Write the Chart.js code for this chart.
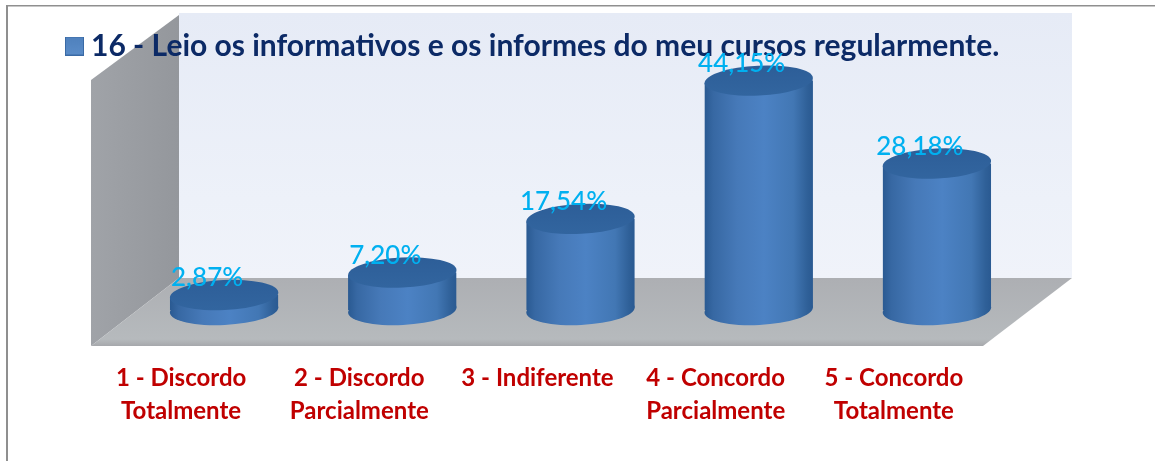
<!DOCTYPE html>
<html><head><meta charset="utf-8">
<style>html,body{margin:0;padding:0;background:#fff;overflow:hidden}#w{width:1155px;height:461px;position:relative}canvas{display:block}</style>
<script src="https://cdn.jsdelivr.net/npm/chart.js@4"></script>
</head><body><div id="w"><canvas id="c" width="1155" height="461"></canvas></div>
<script>
const categories = [
  ['1 - Discordo','Totalmente'],
  ['2 - Discordo','Parcialmente'],
  ['3 - Indiferente'],
  ['4 - Concordo','Parcialmente'],
  ['5 - Concordo','Totalmente']
];
const seriesName = '16 - Leio os informativos e os informes do meu cursos regularmente.';
const values = [2.87, 7.20, 17.54, 44.15, 28.18];
const valueLabels = ['2,87%','7,20%','17,54%','44,15%','28,18%'];

const RY = 15, TILT = -0.05;
function bodyGrad(ctx, cx, hw){
  const g = ctx.createLinearGradient(cx-hw,0,cx+hw,0);
  g.addColorStop(0,'#2a5a92');
  g.addColorStop(0.08,'#3768a3');
  g.addColorStop(0.3,'#4679b8');
  g.addColorStop(0.55,'#4c82c4');
  g.addColorStop(0.82,'#4277b4');
  g.addColorStop(0.95,'#2f6098');
  g.addColorStop(1,'#2a5a92');
  return g;
}
// legend swatch: a 19px blue square, passed to the legend as its point style
const swatch = document.createElement('canvas');
swatch.width = 19; swatch.height = 19;
(function(){
  const s = swatch.getContext('2d');
  const g = s.createLinearGradient(0,0,0,19);
  g.addColorStop(0,'#4f81bd'); g.addColorStop(1,'#5a8cc8');
  s.fillStyle = g; s.fillRect(0,0,19,19);
  s.strokeStyle = '#3a6aa5'; s.lineWidth = 1; s.strokeRect(0.5,0.5,18,18);
})();

const scene = {
  id:'scene',
  beforeDraw(chart){
    const {ctx,scales:{y}} = chart;
    const base = y.getPixelForValue(0);
    const back = base-32, front = base+36, top = base-297;
    ctx.save();
    // outer frame
    ctx.fillStyle='#8f8f8f';
    ctx.fillRect(6,5,1149,1.5);
    ctx.fillRect(6,5,2,456);
    // back wall
    let g = ctx.createLinearGradient(0,top,0,back);
    g.addColorStop(0,'#e6ebf6'); g.addColorStop(0.7,'#edf1f9'); g.addColorStop(1,'#f0f3fa');
    ctx.fillStyle=g; ctx.fillRect(179,top,893,back-top);
    // left wall
    g = ctx.createLinearGradient(91,0,179,0);
    g.addColorStop(0,'#a0a3a8'); g.addColorStop(1,'#94979c');
    ctx.fillStyle=g;
    ctx.beginPath();ctx.moveTo(91,base-230);ctx.lineTo(179,top+2);ctx.lineTo(179,back);ctx.lineTo(91,front);ctx.closePath();ctx.fill();
    // floor
    g = ctx.createLinearGradient(0,back,0,front);
    g.addColorStop(0,'#adafb3'); g.addColorStop(0.9,'#b6babd'); g.addColorStop(1,'#a6a8ac');
    ctx.fillStyle=g;
    ctx.beginPath();ctx.moveTo(179,back);ctx.lineTo(1072,back);ctx.lineTo(983,front);ctx.lineTo(91,front);ctx.closePath();ctx.fill();
    ctx.restore();
  },
  beforeDatasetsDraw(chart){
    const {ctx,scales:{y}} = chart;
    const base = y.getPixelForValue(0);
    chart.getDatasetMeta(0).data.forEach(b=>{
      const hw=b.width/2;
      ctx.save();
      ctx.fillStyle=bodyGrad(ctx,b.x,hw);
      ctx.beginPath();ctx.ellipse(b.x,base,hw,RY,TILT,0,Math.PI*2);ctx.fill();
      ctx.restore();
    });
  },
  beforeDatasetDraw(chart){
    const {ctx,scales:{y}} = chart;
    const base = y.getPixelForValue(0);
    ctx.save();
    ctx.beginPath();
    const dy = Math.sin(-TILT)*54;
    chart.getDatasetMeta(0).data.forEach(b=>{
      const hw=b.width/2;
      ctx.moveTo(b.x-hw,b.y+dy);ctx.lineTo(b.x+hw,b.y-dy);ctx.lineTo(b.x+hw,base-dy);ctx.lineTo(b.x-hw,base+dy);ctx.closePath();
    });
    ctx.clip();
  },
  afterDatasetDraw(chart){ chart.ctx.restore(); },
  afterDatasetsDraw(chart){
    const {ctx} = chart;
    chart.getDatasetMeta(0).data.forEach((b,i)=>{
      const hw=b.width/2;
      ctx.save();
      const g=ctx.createLinearGradient(0,b.y-RY,0,b.y+RY);
      g.addColorStop(0,'#2d5e98'); g.addColorStop(1,'#32659f');
      ctx.fillStyle=g;
      ctx.beginPath();ctx.ellipse(b.x,b.y,hw,RY,TILT,0,Math.PI*2);ctx.fill();
      ctx.restore();
    });
    ctx.save();
    ctx.font='500 26px Lato';
    ctx.fillStyle='#00b0f0';
    ctx.textAlign='center';ctx.textBaseline='middle';
    chart.getDatasetMeta(0).data.forEach((b,i)=>{
      ctx.fillText(valueLabels[i],b.x-17,b.y-17);
    });
    ctx.restore();
  }
};
new Chart(document.getElementById('c'),{
  type:'bar',
  data:{labels:categories,datasets:[{
    label:seriesName,
    data:values,
    backgroundColor(c){
      const chart=c.chart;
      if(!chart.chartArea||c.dataIndex===undefined) return '#4f81bd';
      return bodyGrad(chart.ctx,chart.scales.x.getPixelForValue(c.dataIndex),54);
    },
    borderWidth:0,
    categoryPercentage:1,
    barPercentage:0.609
  }]},
  options:{
    responsive:false,animation:false,
    layout:{padding:{left:65,right:129,top:23,bottom:0}},
    plugins:{
      tooltip:{enabled:false},
      legend:{display:true,position:'top',align:'start',
        labels:{padding:8,usePointStyle:true,pointStyle:swatch,pointStyleWidth:3,boxHeight:19,color:'#0c2a66',font:{family:'Lato',size:30,weight:'700'},
          generateLabels(ch){return [{text:seriesName,pointStyle:swatch,fillStyle:'#4f81bd',strokeStyle:'#3a6aa5',lineWidth:0,fontColor:'#0c2a66',datasetIndex:0}];}}
      }
    },
    scales:{
      x:{grid:{display:false},border:{display:false},
        ticks:{color:'#c00000',font:{family:'Lato',size:24,weight:'700',lineHeight:'33px'},padding:44,labelOffset:-43,maxRotation:0,autoSkip:false},
        afterFit(s){s.height=151;}
      },
      y:{min:0,max:46,grid:{display:false},border:{display:false},ticks:{display:false},
        afterFit(s){s.width=70;}
      }
    }
  },
  plugins:[scene]
});
</script></body></html>
